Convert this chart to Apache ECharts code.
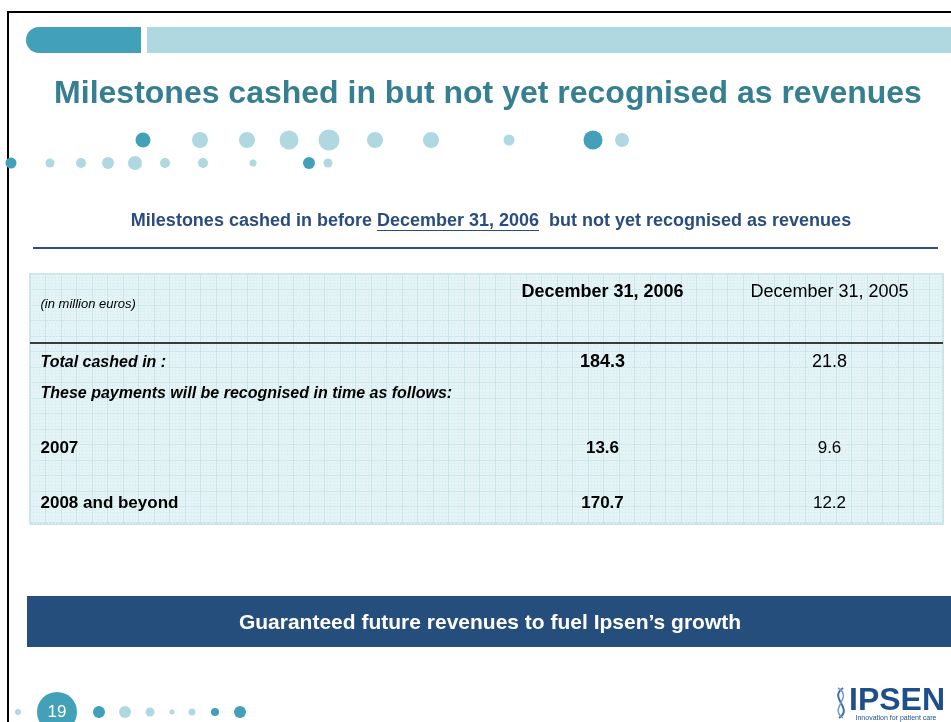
<!DOCTYPE html>
<html>
<head>
<meta charset="UTF-8">
<title>Milestones cashed in</title>
<script src="https://cdn.jsdelivr.net/npm/echarts@6/dist/echarts.min.js"></script>
<style>
  html, body { margin: 0; padding: 0; background: #fff; }
  #main { width: 951px; height: 722px; }
</style>
</head>
<body>
<div id="main"></div>
<script type="text/javascript">
// table content
var columns = ['(in million euros)', 'December 31, 2006', 'December 31, 2005'];
var rowLabels = ['Total cashed in :', 'These payments will be recognised in time as follows:', '2007', '2008 and beyond'];
var values2006 = [184.3, null, 13.6, 170.7];
var values2005 = [21.8, null, 9.6, 12.2];

// small layout tweaks per row (rows of the slide are not evenly spaced)
var rowNudge = [0, 13, -7, -3, 0];

var FONT = '"Liberation Sans", Arial, sans-serif';
var DARK = '#42a0b8', LIGHT = '#b0d8e0';

var myChart = echarts.init(document.getElementById('main'));

// text style for each kind of cell
var styles = {
    unit:   { fontSize: 13, fontStyle: 'italic', fontWeight: 'normal' },
    head06: { fontSize: 18, fontWeight: 'bold' },
    head05: { fontSize: 18, fontWeight: 'normal' },
    rowIt:  { fontSize: 16, fontStyle: 'italic', fontWeight: 'bold' },
    rowIt2: { fontSize: 16, fontStyle: 'italic', fontWeight: 'bold' },
    rowB:   { fontSize: 17, fontWeight: 'bold' },
    valB:   { fontSize: 17, fontWeight: 'bold' },
    valN:   { fontSize: 17, fontWeight: 'normal' }
};

function cell(col, row, text, kind, dy) {
    var s = styles[kind];
    var lab = {
        show: true,
        position: 'inside',
        formatter: text,
        color: '#000',
        fontFamily: FONT,
        fontSize: s.fontSize,
        fontWeight: s.fontWeight,
        fontStyle: s.fontStyle || 'normal',
        offset: [0, rowNudge[row] + (dy || 0)]
    };
    if (col === 0) {
        lab.align = 'left';
        lab.offset = [-335, rowNudge[row] + (dy || 0)];
    }
    return { value: [col, row], label: lab };
}

var cells = [];
cells.push(cell(0, 0, columns[0], 'unit', 6));
cells.push(cell(1, 0, columns[1], 'head06', -6));
cells.push(cell(2, 0, columns[2], 'head05', -6));
for (var i = 0; i < rowLabels.length; i++) {
    var kind = i === 0 ? 'rowIt' : (i === 1 ? 'rowIt2' : 'rowB');
    cells.push(cell(0, i + 1, rowLabels[i], kind));
    if (values2006[i] != null) cells.push(cell(1, i + 1, values2006[i].toFixed(1), i === 0 ? 'head06' : 'valB'));
    if (values2005[i] != null) cells.push(cell(2, i + 1, values2005[i].toFixed(1), i === 0 ? 'head05' : 'valN'));
}

// decoration dots
var dotsTop = [
    [143, 140, 7.5, DARK], [200, 140, 8, LIGHT], [247, 140, 8, LIGHT], [289, 140, 9.5, LIGHT],
    [329, 140, 10.5, LIGHT], [375, 140, 8, LIGHT], [431, 140, 8, LIGHT], [509, 140, 5.5, LIGHT],
    [593, 140, 9.5, DARK], [622, 140, 7, LIGHT],
    [11, 163, 5.5, DARK], [50, 163, 4.5, LIGHT], [81, 163, 5, LIGHT], [108, 163, 6, LIGHT],
    [135, 163, 7, LIGHT], [165, 163, 5, LIGHT], [203, 163, 5, LIGHT], [253, 163, 3.5, LIGHT],
    [309, 163, 6, DARK], [328, 163, 4.5, LIGHT]
];
var dotsBottom = [
    [18, 712, 3, LIGHT], [99, 712, 6, DARK], [125, 712, 6, LIGHT], [150, 712, 4.5, LIGHT],
    [172, 712, 2.5, LIGHT], [192, 712, 3.5, LIGHT], [215, 712, 4, DARK], [240, 712, 6, DARK]
];

// subtitle with the underlined date
var subPre = 'Milestones cashed in before ', subDate = 'December 31, 2006', subPost = '  but not yet recognised as revenues';
var subFont = 'bold 18px ' + FONT;
var ctx = document.createElement('canvas').getContext('2d');
ctx.font = subFont;
var wPre = ctx.measureText(subPre).width, wDate = ctx.measureText(subDate).width;
var wAll = ctx.measureText(subPre + subDate + subPost).width;
var subX = 491 - wAll / 2;

var graphics = [
    // slide frame
    { type: 'line', shape: { x1: 7, y1: 12, x2: 951, y2: 12 }, style: { stroke: '#000', lineWidth: 2 } },
    { type: 'line', shape: { x1: 8, y1: 11, x2: 8, y2: 722 }, style: { stroke: '#000', lineWidth: 2 } },
    // header bars
    { type: 'rect', shape: { x: 26, y: 27, width: 115, height: 26, r: [13, 0, 0, 13] }, style: { fill: DARK } },
    { type: 'rect', shape: { x: 147, y: 27, width: 804, height: 26 }, style: { fill: LIGHT } },
    // title
    { type: 'text', x: 488, y: 94, style: { text: 'Milestones cashed in but not yet recognised as revenues',
        fill: '#367f90', font: 'bold 32px ' + FONT, textAlign: 'center', textVerticalAlign: 'middle' } },
    // subtitle
    { type: 'text', x: subX, y: 221, style: { text: subPre + subDate + subPost,
        fill: '#2b4c7e', font: subFont, textAlign: 'left', textVerticalAlign: 'middle' } },
    { type: 'line', shape: { x1: subX + wPre, y1: 230.5, x2: subX + wPre + wDate, y2: 230.5 },
        style: { stroke: '#2b4c7e', lineWidth: 1.2 } },
    { type: 'line', shape: { x1: 33, y1: 248, x2: 938, y2: 248 }, style: { stroke: '#2e4e85', lineWidth: 2 } },
    // rule under the table header
    { type: 'line', z: 10, shape: { x1: 30, y1: 343, x2: 943, y2: 343 }, style: { stroke: '#000', lineWidth: 1.5 } },
    // banner
    { type: 'rect', shape: { x: 27, y: 596, width: 924, height: 51 }, style: { fill: '#264e7d' } },
    { type: 'text', x: 490, y: 623, style: { text: 'Guaranteed future revenues to fuel Ipsen\u2019s growth',
        fill: '#fff', font: 'bold 21px ' + FONT, textAlign: 'center', textVerticalAlign: 'middle' } },
    // page number
    { type: 'circle', shape: { cx: 57, cy: 712, r: 20 }, style: { fill: DARK } },
    { type: 'text', x: 57, y: 712, style: { text: '19', fill: '#fff', font: '17px ' + FONT,
        textAlign: 'center', textVerticalAlign: 'middle' } },
    // logo
    { type: 'bezierCurve', shape: { x1: 843, y1: 688, x2: 839, y2: 718, cpx1: 828, cpy1: 698, cpx2: 854, cpy2: 708 },
        style: { stroke: '#3b6fae', lineWidth: 2, fill: null } },
    { type: 'bezierCurve', shape: { x1: 838, y1: 688, x2: 843, y2: 718, cpx1: 854, cpy1: 698, cpx2: 828, cpy2: 708 },
        style: { stroke: '#6f9ccc', lineWidth: 1.5, fill: null } },
    { type: 'text', x: 897, y: 701, style: { text: 'IPSEN', fill: '#1f4f8a', font: 'bold 32px ' + FONT,
        textAlign: 'center', textVerticalAlign: 'middle' } },
    { type: 'text', x: 896, y: 718, style: { text: 'Innovation for patient care', fill: '#1f4f8a', font: '7px ' + FONT,
        textAlign: 'center', textVerticalAlign: 'middle' } }
];
dotsTop.concat(dotsBottom).forEach(function (d) {
    graphics.push({ type: 'circle', shape: { cx: d[0], cy: d[1], r: d[2] }, style: { fill: d[3] } });
});

var option = {
    animation: false,
    backgroundColor: '#fff',
    textStyle: { fontFamily: FONT },
    graphic: graphics,
    grid: [
        // squared paper background of the table
        { left: 30, top: 274, width: 913, height: 250, show: true, backgroundColor: '#e8f5f7',
          borderColor: '#bfe0e6', borderWidth: 1.5 },
        // table cells
        { left: 262, top: 272.5, width: 681, height: 256 }
    ],
    xAxis: [
        { gridIndex: 0, type: 'value', min: 0, max: 913, interval: 15.5,
          axisLabel: { show: false }, axisLine: { show: false }, axisTick: { show: false },
          splitLine: { show: true, lineStyle: { color: '#c9e5ea', width: 1 } },
          minorTick: { show: false, splitNumber: 5 },
          minorSplitLine: { show: true, lineStyle: { color: '#ddf0f3', width: 1 } } },
        { gridIndex: 1, type: 'category', data: columns,
          axisLabel: { show: false }, axisLine: { show: false }, axisTick: { show: false }, splitLine: { show: false } }
    ],
    yAxis: [
        { gridIndex: 0, type: 'value', min: 0, max: 250, interval: 15.5, inverse: true,
          axisLabel: { show: false }, axisLine: { show: false }, axisTick: { show: false },
          splitLine: { show: true, lineStyle: { color: '#c9e5ea', width: 1 } },
          minorTick: { show: false, splitNumber: 5 },
          minorSplitLine: { show: true, lineStyle: { color: '#ddf0f3', width: 1 } } },
        { gridIndex: 1, type: 'category', inverse: true, data: ['head'].concat(rowLabels),
          axisLabel: { show: false }, axisLine: { show: false }, axisTick: { show: false }, splitLine: { show: false } }
    ],
    series: [
        { type: 'scatter', xAxisIndex: 0, yAxisIndex: 0, data: [], silent: true },
        { type: 'scatter', xAxisIndex: 1, yAxisIndex: 1, symbolSize: 0, silent: true, z: 5,
          itemStyle: { opacity: 1 }, data: cells }
    ]
};
myChart.setOption(option);
</script>
</body>
</html>
